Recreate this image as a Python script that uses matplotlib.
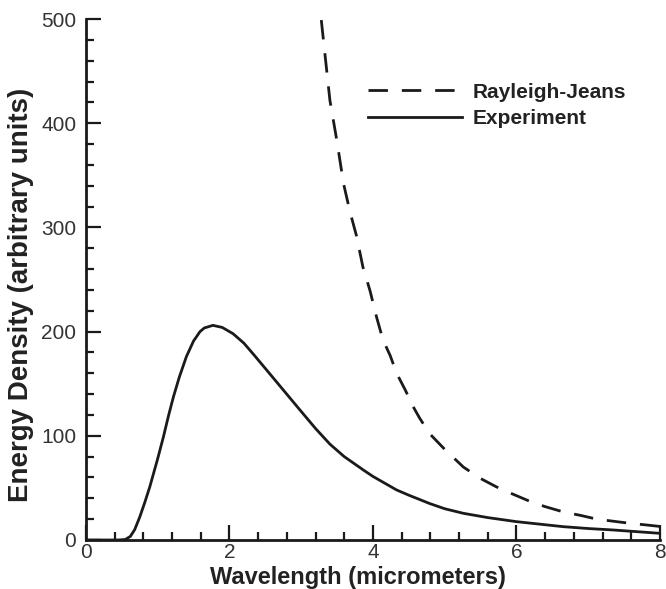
import matplotlib
matplotlib.use("Agg")
import matplotlib.pyplot as plt
from matplotlib.ticker import MultipleLocator

# values
exp_wavelength = [0.0, 0.45, 0.55, 0.62, 0.68, 0.75, 0.82, 0.89, 1.00, 1.08, 1.15, 1.22,
                  1.30, 1.40, 1.50, 1.59, 1.65, 1.77, 1.90, 2.05, 2.20, 2.35,
                  2.52, 2.75, 2.98, 3.20, 3.40, 3.60, 3.87, 4.00, 4.33, 4.50,
                  4.79, 5.00, 5.26, 5.60, 6.00, 6.65, 7.00, 7.35, 8.00]
exp_density = [0.0, 0.0, 0.5, 3.5, 10.0, 22.0, 36.0, 51.0, 78.0, 99.0, 119.0, 137.5,
               156.0, 176.0, 191.0, 200.0, 203.5, 206.0, 204.0, 198.0, 189.0, 177.0,
               163.0, 144.0, 125.0, 107.0, 92.0, 80.0, 67.0, 61.0, 48.0, 43.0,
               35.0, 30.0, 25.6, 21.5, 17.6, 12.8, 11.0, 9.6, 6.4]

rj_wavelength = [3.28, 3.40, 3.50, 3.59, 3.68, 3.77, 3.86, 3.96, 4.05, 4.14, 4.24,
                 4.33, 4.45, 4.56, 4.65, 4.79, 5.00, 5.26, 5.50, 5.72, 5.95,
                 6.19, 6.40, 6.65, 6.90, 7.12, 7.35, 7.58, 7.80, 8.00]
rj_density = [499.0, 422.0, 382.0, 342.0, 315.0, 292.0, 262.0, 239.0, 214.0, 192.0, 177.0,
              160.0, 144.0, 128.0, 117.0, 102.0, 87.0, 70.0, 59.0, 51.0, 44.0,
              37.0, 32.0, 27.0, 23.5, 20.0, 18.0, 16.0, 14.5, 13.0]

plt.rcParams['font.family'] = ['Liberation Sans', 'DejaVu Sans']

fig = plt.figure(figsize=(6.66, 5.89), dpi=100)
ax = fig.add_axes([0.129, 0.0832, 0.862, 0.8845])

ax.plot(rj_wavelength, rj_density, color='#1a1a1a', linewidth=2.0,
        linestyle=(0, (7, 5)), label='Rayleigh-Jeans')
ax.plot(exp_wavelength, exp_density, color='#1a1a1a', linewidth=2.0,
        label='Experiment')

ax.set_xlim(0, 8)
ax.set_ylim(0, 500)
ax.xaxis.set_major_locator(MultipleLocator(2))
ax.xaxis.set_minor_locator(MultipleLocator(0.4))
ax.yaxis.set_major_locator(MultipleLocator(100))
ax.yaxis.set_minor_locator(MultipleLocator(20))

for side in ('top', 'right'):
    ax.spines[side].set_visible(False)
for side in ('left', 'bottom'):
    ax.spines[side].set_linewidth(2.0)
    ax.spines[side].set_color('#1a1a1a')

ax.tick_params(which='both', direction='in', top=False, right=False,
               color='#1a1a1a', width=1.6)
ax.tick_params(which='major', length=11, labelsize=15, labelcolor='#333333')
ax.tick_params(which='minor', length=6)
ax.tick_params(axis='x', pad=2)
ax.tick_params(axis='y', pad=7)

ax.set_xlabel('Wavelength (micrometers)', fontsize=17, fontweight='bold',
              color='#222222')
ax.set_ylabel('Energy Density (arbitrary units)', fontsize=20, fontweight='bold',
              color='#222222')
ax.xaxis.set_label_coords(0.474, -0.049)
ax.yaxis.set_label_coords(-0.09, 0.47)

leg = ax.legend(loc='upper left', bbox_to_anchor=(0.491, 0.878), frameon=False,
                fontsize=15, handlelength=4.5, handletextpad=0.55,
                labelspacing=0.36, borderpad=0, borderaxespad=0)
for text in leg.get_texts():
    text.set_fontweight('bold')
    text.set_color('#222222')

fig.savefig('out.png', dpi=100)
